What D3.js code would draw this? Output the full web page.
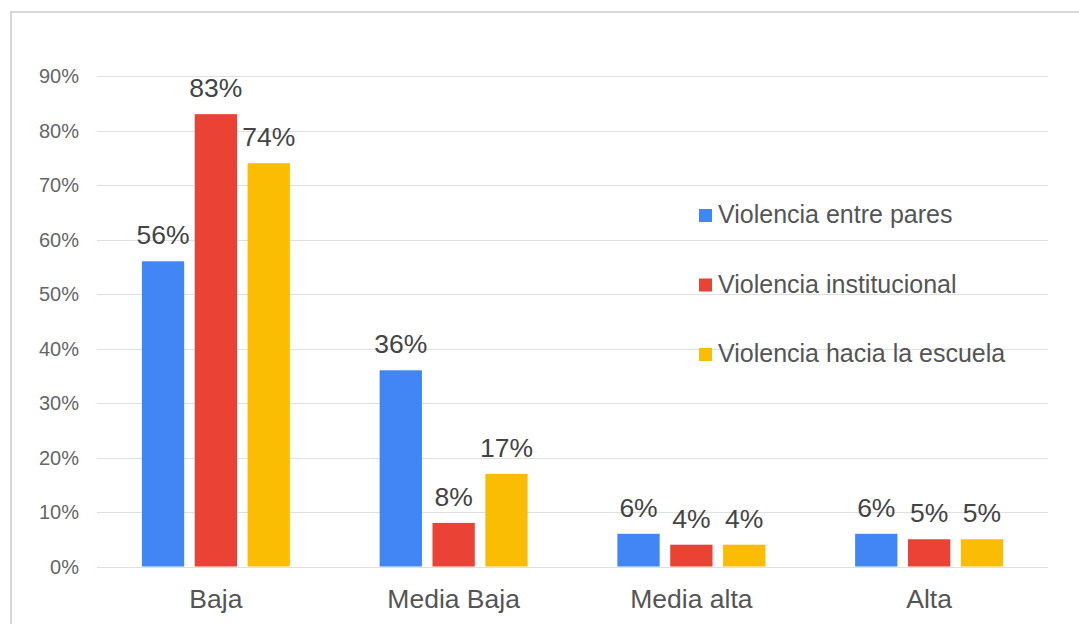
<!DOCTYPE html>
<html lang="es">
<head>
    <meta charset="UTF-8">
    <title>Violencia</title>
    <script src="https://d3js.org/d3.v7.min.js"></script>
    <style>
        body { margin: 0; background: #fff; }
        text { font-family: "Liberation Sans", Arial, sans-serif; }
    </style>
</head>
<body>
<script>
// data
const categories = ["Baja", "Media Baja", "Media alta", "Alta"];
const seriesNames = ["Violencia entre pares", "Violencia institucional", "Violencia hacia la escuela"];
const entrePares = [56, 36, 6, 6];
const institucional = [83, 8, 4, 5];
const haciaEscuela = [74, 17, 4, 5];
const yTicks = [0, 10, 20, 30, 40, 50, 60, 70, 80, 90];
const colors = ["#4285f4", "#ea4335", "#fbbc04"];

const values = [entrePares, institucional, haciaEscuela];

const width = 1079, height = 624;
const svg = d3.select("body").append("svg")
    .attr("width", width)
    .attr("height", height);

// outer frame
svg.append("rect")
    .attr("x", 11)
    .attr("y", 12)
    .attr("width", width)
    .attr("height", height)
    .attr("fill", "none")
    .attr("stroke", "#d6d6d6")
    .attr("stroke-width", 2);

const x0 = d3.scaleBand().domain(categories).range([97, 1048]);
const x1 = d3.scaleBand().domain(seriesNames).range([-74, 74]).paddingInner(0.2);
const y = d3.scaleLinear().domain([0, 90]).range([566.5, 76]);

// gridlines
svg.append("g")
    .selectAll("line")
    .data(yTicks)
    .enter().append("line")
    .attr("x1", 97)
    .attr("x2", 1048)
    .attr("y1", d => Math.round(y(d)) + 0.5)
    .attr("y2", d => Math.round(y(d)) + 0.5)
    .attr("stroke", "#e0e0e0")
    .attr("stroke-width", 1.2);

// y tick labels
svg.append("g")
    .selectAll("text")
    .data(yTicks)
    .enter().append("text")
    .attr("x", 79)
    .attr("y", d => y(d))
    .attr("dy", "0.35em")
    .attr("text-anchor", "end")
    .attr("font-size", 20)
    .attr("fill", "#666")
    .text(d => d + "%");

// bars
const groups = svg.append("g")
    .selectAll("g")
    .data(categories)
    .enter().append("g")
    .attr("transform", d => `translate(${x0(d) + x0.bandwidth() / 2},0)`);

groups.selectAll("rect")
    .data((d, i) => seriesNames.map((s, j) => ({ s, j, v: values[j][i] })))
    .enter().append("rect")
    .attr("x", d => x1(d.s))
    .attr("y", d => y(d.v))
    .attr("width", x1.bandwidth())
    .attr("height", d => y(0) - y(d.v))
    .attr("fill", d => colors[d.j]);

groups.selectAll("text")
    .data((d, i) => seriesNames.map((s, j) => ({ s, j, v: values[j][i] })))
    .enter().append("text")
    .attr("x", d => x1(d.s) + x1.bandwidth() / 2)
    .attr("y", d => y(d.v) - 17)
    .attr("text-anchor", "middle")
    .attr("font-size", 26.5)
    .attr("fill", "#444")
    .text(d => d.v + "%");

// category labels
svg.append("g")
    .selectAll("text")
    .data(categories)
    .enter().append("text")
    .attr("x", d => x0(d) + x0.bandwidth() / 2)
    .attr("y", 608)
    .attr("text-anchor", "middle")
    .attr("font-size", 26.5)
    .attr("fill", "#555")
    .text(d => d);

// legend
const legend = svg.append("g")
    .selectAll("g")
    .data(seriesNames)
    .enter().append("g")
    .attr("transform", (d, i) => `translate(699,${223 + i * 69.5})`);

legend.append("rect")
    .attr("x", 0)
    .attr("y", -14)
    .attr("width", 13)
    .attr("height", 13)
    .attr("fill", (d, i) => colors[i]);

legend.append("text")
    .attr("x", 19)
    .attr("y", 0)
    .attr("font-size", 25)
    .attr("fill", "#555")
    .text(d => d);
</script>
</body>
</html>
